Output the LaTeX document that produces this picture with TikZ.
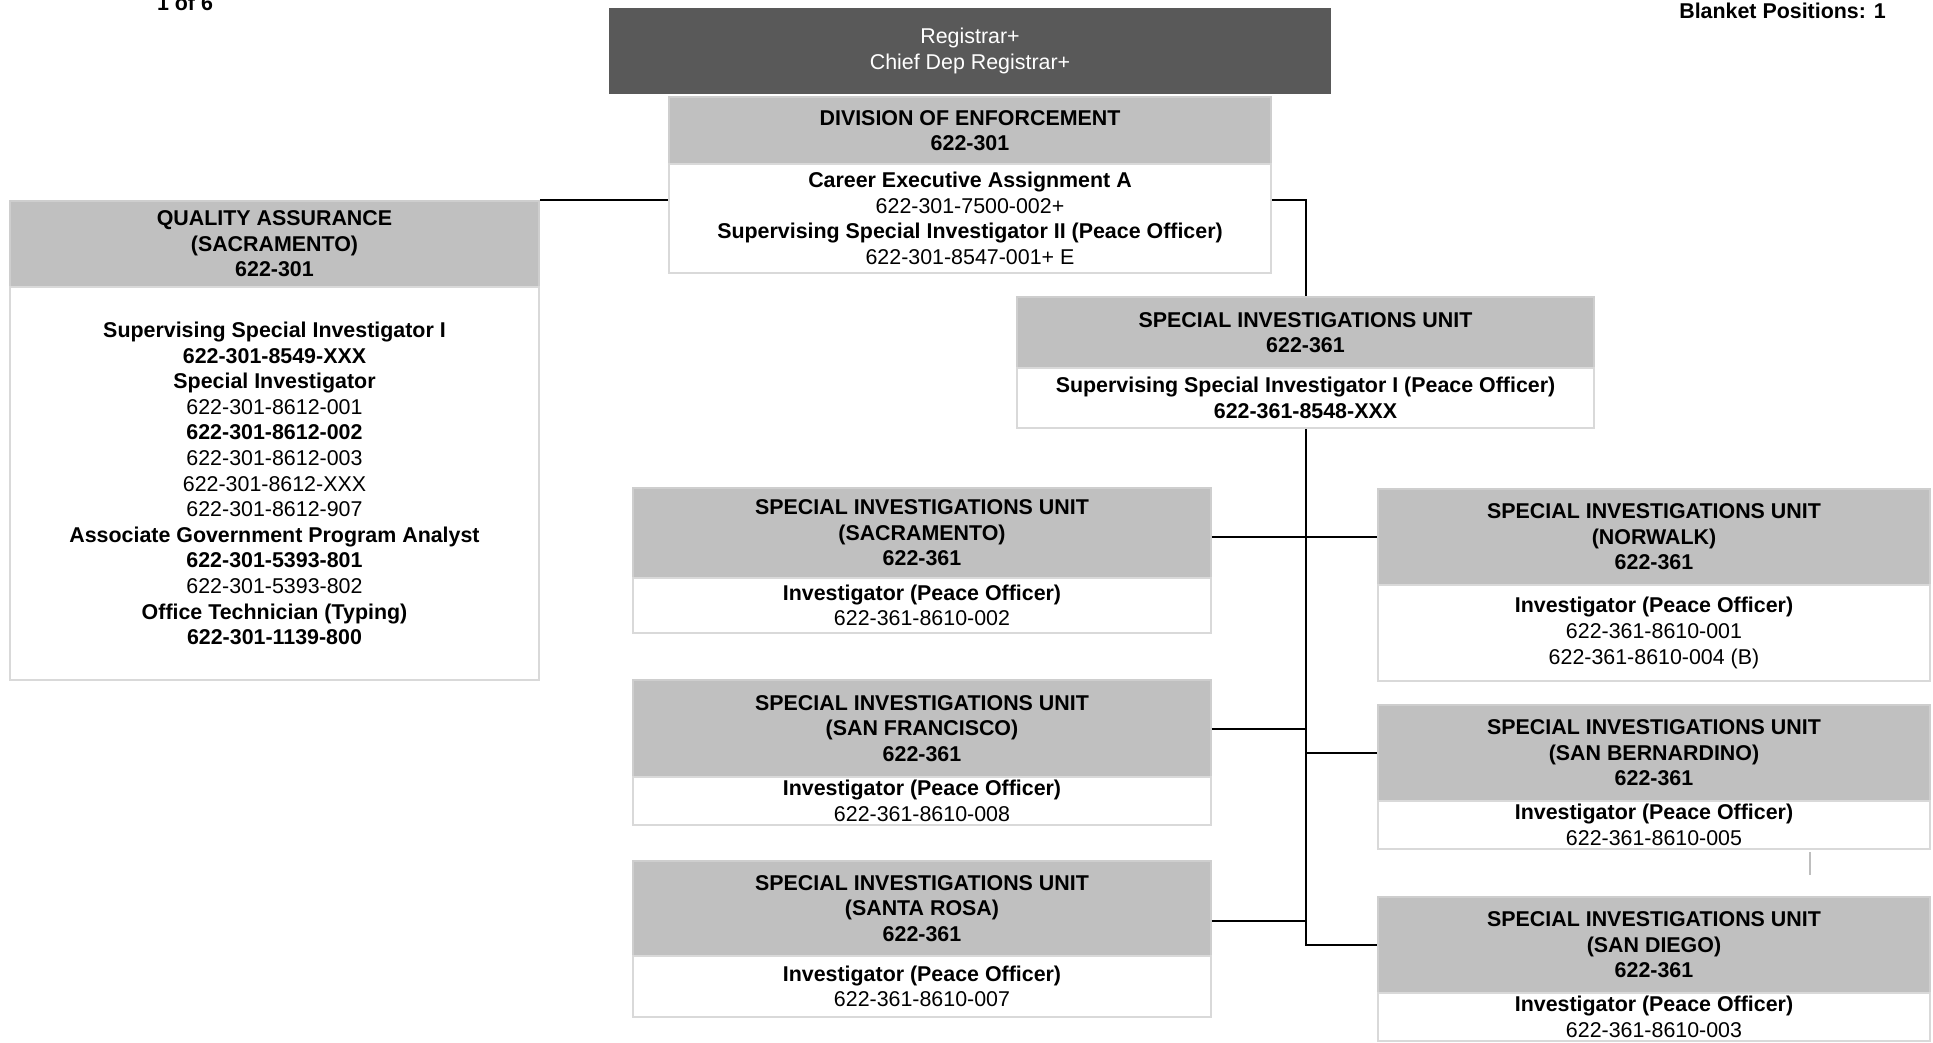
\documentclass[tikz,border=0pt]{standalone}
\usepackage{fontspec}
\setmainfont{Liberation Sans}
\usetikzlibrary{calc}
\definecolor{hdrgray}{RGB}{192,192,192}
\definecolor{hdredge}{RGB}{206,206,206}
\definecolor{bodyedge}{RGB}{217,217,217}
\definecolor{topgray}{RGB}{89,89,89}
\definecolor{straygray}{RGB}{190,190,190}
\tikzset{
  basebox/.style={rectangle, inner sep=0pt, align=center, font=\fontsize{21.4}{25.6}\selectfont},
  hdr/.style={basebox, fill=hdrgray, draw=hdredge, line width=1.5pt, font=\fontsize{21.4}{25.6}\selectfont\bfseries},
  bodybox/.style={basebox, fill=white, draw=bodyedge, line width=1.5pt},
  topbox/.style={basebox, fill=topgray, text=white},
  conn/.style={draw=black, line width=2pt},
  wh/.style 2 args={minimum width=#1pt, minimum height=#2pt},
  corner/.style={font=\fontsize{21.4}{25.6}\selectfont\bfseries, inner sep=0pt}
}
\begin{document}
\begin{tikzpicture}[x=1pt,y=-1pt]
\useasboundingbox (0,0) rectangle (1933,1042);
\fill[white] (0,0) rectangle (1933,1042);

% corner texts
\node[corner, anchor=base] (page) at (185,10) {1 of 6};
\node[corner, anchor=base east] (blanket) at (1886,18) {Blanket Positions: 1};

% top box
\node[topbox, wh={722}{86}] (reg) at (970,51) {Registrar+\\Chief Dep Registrar+};

% division
\node[hdr, wh={602}{67}] (divH) at (970,130.5) {DIVISION OF ENFORCEMENT\\622-301};
\node[bodybox, wh={602}{109}] (divB) at (970,218.5) {\textbf{Career Executive Assignment A}\\622-301-7500-002+\\\textbf{Supervising Special Investigator II (Peace Officer)}\\622-301-8547-001+ E};

% quality assurance
\node[hdr, wh={529}{86}] (qaH) at (274.5,244) {QUALITY ASSURANCE\\(SACRAMENTO)\\622-301};
\node[bodybox, wh={529}{393}] (qaB) at (274.5,483.5) {\textbf{Supervising Special Investigator I}\\\textbf{622-301-8549-XXX}\\\textbf{Special Investigator}\\622-301-8612-001\\\textbf{622-301-8612-002}\\622-301-8612-003\\622-301-8612-XXX\\622-301-8612-907\\\textbf{Associate Government Program Analyst}\\\textbf{622-301-5393-801}\\622-301-5393-802\\\textbf{Office Technician (Typing)}\\\textbf{622-301-1139-800}};

% SIU main
\node[hdr, wh={577}{71}] (siuH) at (1305.5,332.5) {SPECIAL INVESTIGATIONS UNIT\\622-361};
\node[bodybox, wh={577}{60}] (siuB) at (1305.5,398) {\textbf{Supervising Special Investigator I (Peace Officer)}\\\textbf{622-361-8548-XXX}};

% left column
\node[hdr, wh={578}{90}] (sacH) at (922,533) {SPECIAL INVESTIGATIONS UNIT\\(SACRAMENTO)\\622-361};
\node[bodybox, wh={578}{55}] (sacB) at (922,605.5) {\textbf{Investigator (Peace Officer)}\\622-361-8610-002};
\node[hdr, wh={578}{97}] (sfH) at (922,728.5) {SPECIAL INVESTIGATIONS UNIT\\(SAN FRANCISCO)\\622-361};
\node[bodybox, wh={578}{48}] (sfB) at (922,801) {\textbf{Investigator (Peace Officer)}\\622-361-8610-008};
\node[hdr, wh={578}{95}] (srH) at (922,908.5) {SPECIAL INVESTIGATIONS UNIT\\(SANTA ROSA)\\622-361};
\node[bodybox, wh={578}{61}] (srB) at (922,986.5) {\textbf{Investigator (Peace Officer)}\\622-361-8610-007};

% right column
\node[hdr, wh={552}{96}] (nwH) at (1654,537) {SPECIAL INVESTIGATIONS UNIT\\(NORWALK)\\622-361};
\node[bodybox, wh={552}{96}] (nwB) at (1654,633) {\textbf{Investigator (Peace Officer)}\\622-361-8610-001\\622-361-8610-004 (B)};
\node[hdr, wh={552}{96}] (sbH) at (1654,753) {SPECIAL INVESTIGATIONS UNIT\\(SAN BERNARDINO)\\622-361};
\node[bodybox, wh={552}{48}] (sbB) at (1654,825) {\textbf{Investigator (Peace Officer)}\\622-361-8610-005};
\node[hdr, wh={552}{96}] (sdH) at (1654,945) {SPECIAL INVESTIGATIONS UNIT\\(SAN DIEGO)\\622-361};
\node[bodybox, wh={552}{48}] (sdB) at (1654,1017) {\textbf{Investigator (Peace Officer)}\\622-361-8610-003};

% connectors
\draw[conn] (qaH.north east) -- (qaH.north east -| divB.west);
\draw[conn] (divB.east |- qaH.north east) -| (siuH.north);
\draw[conn] (siuB.south) |- (sdH.west);

\coordinate (sacP) at ($(sacH.east)+(0,4)$);
\coordinate (sfP) at (sfH.east);
\coordinate (srP) at ($(srH.east)+(0,12.5)$);
\draw[conn] (sacP) -- (sacP -| siuB.south);
\draw[conn] (sfP) -- (sfP -| siuB.south);
\draw[conn] (srP) -- (srP -| siuB.south);
\draw[conn] (nwH.west -| siuB.south) -- (nwH.west);
\draw[conn] (sbH.west -| siuB.south) -- (sbH.west);

% stray mark
\coordinate (strayA) at (1810,852);
\coordinate (strayB) at (1810,875);
\draw[straygray, line width=1.5pt] (strayA) -- (strayB);
\end{tikzpicture}
\end{document}
